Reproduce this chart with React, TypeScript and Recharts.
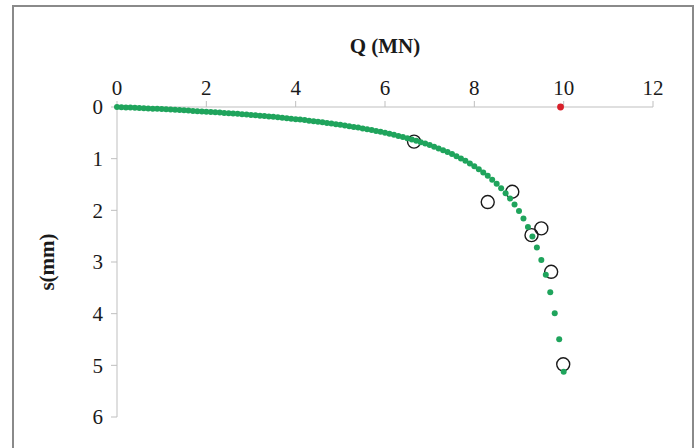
import React from 'react';
import { ScatterChart, Scatter, XAxis, YAxis, Label } from 'recharts';

// computed load-settlement curve (green dots)
const qCurve = [
  0, 0.1, 0.2, 0.3, 0.4, 0.5, 0.6, 0.7, 0.8, 0.9,
  1.0, 1.1, 1.2, 1.3, 1.4, 1.5, 1.6, 1.7, 1.8, 1.9,
  2.0, 2.1, 2.2, 2.3, 2.4, 2.5, 2.6, 2.7, 2.8, 2.9,
  3.0, 3.1, 3.2, 3.3, 3.4, 3.5, 3.6, 3.7, 3.8, 3.9,
  4.0, 4.1, 4.2, 4.3, 4.4, 4.5, 4.6, 4.7, 4.8, 4.9,
  5.0, 5.1, 5.2, 5.3, 5.4, 5.5, 5.6, 5.7, 5.8, 5.9,
  6.0, 6.1, 6.2, 6.3, 6.4, 6.5, 6.6, 6.7, 6.8, 6.9,
  7.0, 7.1, 7.2, 7.3, 7.4, 7.5, 7.6, 7.7, 7.8, 7.9,
  8.0, 8.1, 8.2, 8.3, 8.4, 8.5, 8.6, 8.7, 8.8, 8.9,
  9.0, 9.1, 9.2, 9.3, 9.4, 9.5, 9.6, 9.7, 9.8, 9.9,
  10.0,
];
const sCurve = [
  0, 0.004, 0.008, 0.011, 0.015, 0.019, 0.023, 0.028, 0.032, 0.036,
  0.041, 0.045, 0.05, 0.055, 0.059, 0.064, 0.069, 0.075, 0.08, 0.085,
  0.091, 0.096, 0.102, 0.108, 0.114, 0.12, 0.126, 0.133, 0.14, 0.146,
  0.153, 0.161, 0.168, 0.176, 0.183, 0.191, 0.2, 0.208, 0.217, 0.226,
  0.235, 0.244, 0.254, 0.264, 0.274, 0.285, 0.296, 0.308, 0.319, 0.332,
  0.344, 0.357, 0.371, 0.385, 0.399, 0.415, 0.43, 0.447, 0.464, 0.481,
  0.5, 0.519, 0.539, 0.56, 0.582, 0.605, 0.629, 0.654, 0.68, 0.708,
  0.737, 0.768, 0.801, 0.835, 0.872, 0.91, 0.952, 0.995, 1.042, 1.092,
  1.146, 1.204, 1.266, 1.333, 1.406, 1.485, 1.572, 1.667, 1.771, 1.887,
  2.015, 2.159, 2.321, 2.506, 2.717, 2.961, 3.246, 3.585, 3.993, 4.495,
  5.125,
];

// measured points (open circles)
const qMeasured = [6.65, 8.3, 8.85, 9.28, 9.5, 9.72, 9.99];
const sMeasured = [0.67, 1.84, 1.64, 2.48, 2.35, 3.19, 4.98];

// ultimate load marker
const qUltimate = [9.93];
const sUltimate = [0];

const qTicks = [0, 2, 4, 6, 8, 10, 12];
const sTicks = [0, 1, 2, 3, 4, 5, 6];

const curveData = qCurve.map((q, i) => ({ q, s: sCurve[i] }));
const measuredData = qMeasured.map((q, i) => ({ q, s: sMeasured[i] }));
const ultimateData = qUltimate.map((q, i) => ({ q, s: sUltimate[i] }));

const FONT = '"Liberation Serif", "Times New Roman", serif';
const AXIS = '#bfbfbf';

const tickStyle = { fontFamily: FONT, fontSize: 21, fill: '#1a1a1a' };

export default function App() {
  return (
    <div style={{ position: 'absolute', left: 0, top: 0, width: 699, height: 448, overflow: 'hidden', background: '#fff' }}>
      <div
        style={{
          position: 'absolute',
          left: 12,
          top: 5,
          width: 678,
          height: 460,
          border: '2px solid #8a8a8a',
        }}
      />
      <ScatterChart
        width={699}
        height={448}
        margin={{ top: 67, right: 46, bottom: 31, left: 57 }}
        style={{ position: 'absolute', left: 0, top: 0 }}
      >
        <XAxis
          type="number"
          dataKey="q"
          orientation="top"
          height={40}
          domain={[0, 12]}
          ticks={qTicks}
          stroke={AXIS}
          tickSize={6}
          tickMargin={6}
          tick={tickStyle}
        >
          <Label
            content={(props: any) => {
              const vb = props.viewBox || {};
              return (
                <text
                  x={vb.x + vb.width / 2}
                  y={vb.y - 14}
                  textAnchor="middle"
                  fontFamily={FONT}
                  fontSize={21}
                  fontWeight="bold"
                  fill="#1a1a1a"
                >
                  Q (MN)
                </text>
              );
            }}
          />
        </XAxis>
        <YAxis
          type="number"
          dataKey="s"
          width={60}
          domain={[0, 6]}
          ticks={sTicks}
          reversed
          stroke={AXIS}
          tickSize={6}
          tickMargin={8}
          tick={tickStyle}
        >
          <Label
            content={(props: any) => {
              const vb = props.viewBox || {};
              const cx = vb.x - 10;
              const cy = vb.y + vb.height / 2;
              return (
                <text
                  x={cx}
                  y={cy}
                  transform={`rotate(-90, ${cx}, ${cy})`}
                  textAnchor="middle"
                  dominantBaseline="central"
                  fontFamily={FONT}
                  fontSize={21}
                  fontWeight="bold"
                  fill="#1a1a1a"
                >
                  s(mm)
                </text>
              );
            }}
          />
        </YAxis>
        <Scatter
          data={measuredData}
          isAnimationActive={false}
          shape={(p: any) => (
            <circle cx={p.cx} cy={p.cy} r={6.5} fill="none" stroke="#1a1a1a" strokeWidth={1.4} />
          )}
        />
        <Scatter
          data={curveData}
          isAnimationActive={false}
          shape={(p: any) => <circle cx={p.cx} cy={p.cy} r={3} fill="#1fa45c" />}
        />
        <Scatter
          data={ultimateData}
          isAnimationActive={false}
          shape={(p: any) => <circle cx={p.cx} cy={p.cy} r={3.4} fill="#d8202a" />}
        />
      </ScatterChart>
    </div>
  );
}
